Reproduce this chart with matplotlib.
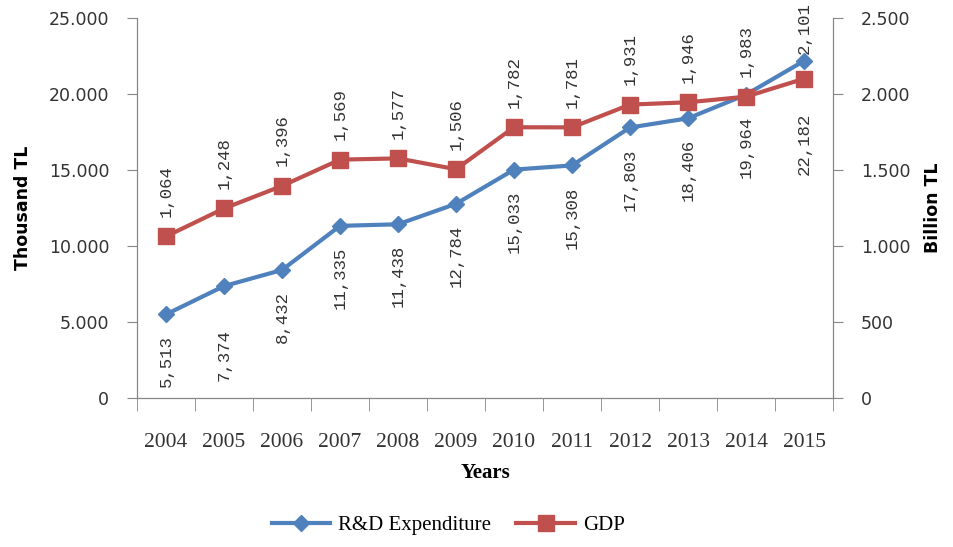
import matplotlib
matplotlib.use("Agg")
import matplotlib.pyplot as plt
import numpy as np

# Data
years = ['2004', '2005', '2006', '2007', '2008', '2009',
         '2010', '2011', '2012', '2013', '2014', '2015']
rd_expenditure = [5513, 7374, 8432, 11335, 11438, 12784,
                  15033, 15308, 17803, 18406, 19964, 22182]   # thousand TL
gdp = [1064, 1248, 1396, 1569, 1577, 1506,
       1782, 1781, 1931, 1946, 1983, 2101]                    # billion TL

blue = '#4F81BD'
red = '#C0504D'
spine_col = '#868686'
text_col = '#333333'

def dotted(v, sep):
    return f'{v:,}'.replace(',', sep)

fig = plt.figure(figsize=(9.54, 5.47), dpi=100)
ax = fig.add_axes([0.1436, 0.272, 0.7296, 0.695])
ax2 = ax.twinx()

x = np.arange(len(years))

l1, = ax.plot(x, rd_expenditure, color=blue, lw=3, marker='D', ms=8,
              label='R&D Expenditure')
l2, = ax2.plot(x, gdp, color=red, lw=3, marker='s', ms=12,
               label='GDP')

# data labels (R&D below, GDP above)
rd_extra = {1: -16, 11: -22}
for i, v in enumerate(rd_expenditure):
    ax.annotate(dotted(v, ','), (x[i], v), xytext=(0, -15 + rd_extra.get(i, 0)),
                textcoords='offset points', rotation=90, ha='center', va='top',
                fontsize=12.5, family='Liberation Mono', color=text_col)
gdp_extra = {11: 4}
for i, v in enumerate(gdp):
    ax2.annotate(dotted(v, ','), (x[i], v), xytext=(0, 14 + gdp_extra.get(i, 0)),
                 textcoords='offset points', rotation=90, ha='center', va='bottom',
                 fontsize=12.5, family='Liberation Mono', color=text_col,
                 annotation_clip=False)

# axes limits and ticks
ax.set_xlim(-0.5, len(years) - 0.5)
ax.set_ylim(0, 25000)
ax2.set_ylim(0, 2500)
ax.set_yticks(np.arange(0, 25001, 5000))
ax.set_yticklabels([dotted(v, '.') for v in range(0, 25001, 5000)])
ax2.set_yticks(np.arange(0, 2501, 500))
ax2.set_yticklabels([dotted(v, '.') for v in range(0, 2501, 500)])

ax.set_xticks(x)
ax.set_xticklabels(years, family='Liberation Serif', fontsize=15.5)
ax.set_xticks(np.arange(-0.5, len(years)), minor=True)
ax.tick_params(axis='x', which='major', length=0, pad=25, colors=text_col)
ax.tick_params(axis='x', which='minor', length=9, color=spine_col)
ax.tick_params(axis='y', length=7, color=spine_col, pad=13,
               labelsize=12.5, labelcolor=text_col)
ax2.tick_params(axis='y', length=7, color=spine_col, pad=13,
                labelsize=12.5, labelcolor=text_col)

for a in (ax, ax2):
    a.spines['top'].set_visible(False)
    for s in ('left', 'right', 'bottom'):
        a.spines[s].set_color(spine_col)

ax.set_xlabel('Years', family='Liberation Serif', fontweight='bold',
              fontsize=15, labelpad=8)
ax.set_ylabel('Thousand TL', fontweight='bold', fontsize=12.5, labelpad=12)
ax2.set_ylabel('Billion TL', fontweight='bold', fontsize=12.5, labelpad=10,
               rotation=90)

fig.legend(handles=[l1, l2], loc='center', bbox_to_anchor=(0.47, 0.04),
           ncol=2, frameon=False, prop={'family': 'Liberation Serif', 'size': 15},
           handlelength=2.8, columnspacing=1.2, handletextpad=0.4)

fig.savefig('out.png', dpi=100)
